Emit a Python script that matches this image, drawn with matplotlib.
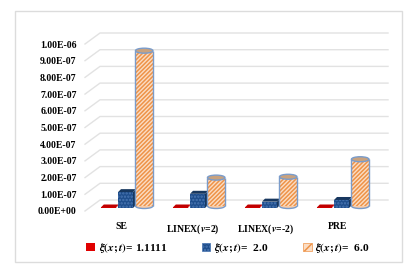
import matplotlib
matplotlib.use("Agg")
import matplotlib.pyplot as plt
from matplotlib.patches import Ellipse, Patch, Rectangle, Polygon

plt.rcParams['font.family'] = ['Liberation Serif', 'DejaVu Serif']
plt.rcParams['font.weight'] = 'bold'
plt.rcParams['mathtext.fontset'] = 'stix'
plt.rcParams['hatch.linewidth'] = 1.1

categories = ["SE", "LINEX($v$=2)", "LINEX($v$=-2)", "PRE"]
series_labels = ["$\\xi(x;t)$= 1.1111", "$\\xi(x;t)$=  2.0", "$\\xi(x;t)$=  6.0"]
xi_1111 = [3e-9, 3e-9, 3e-9, 3e-9]
xi_2 = [0.95e-7, 0.85e-7, 0.38e-7, 0.48e-7]
xi_6 = [9.3e-7, 1.7e-7, 1.75e-7, 2.8e-7]
y_ticks = [0, 1e-7, 2e-7, 3e-7, 4e-7, 5e-7, 6e-7, 7e-7, 8e-7, 9e-7, 1e-6]
y_labels = ["0.00E+00", "1.00E-07", "2.00E-07", "3.00E-07", "4.00E-07", "5.00E-07",
            "6.00E-07", "7.00E-07", "8.00E-07", "9.00E-07", "1.00E-06"]

W, H = 411, 270
fig = plt.figure(figsize=(W/100, H/100), dpi=100)
fig.add_artist(Rectangle((15/W, 1-262/H), 387/W, 251/H, transform=fig.transFigure,
                         fill=False, edgecolor='#DCDCDC', lw=1))

# axes sit on the front plane, the gridlines go on the back wall
ax = fig.add_axes([85/W, 1-211/H, 288/W, 167/H])
ax.set_xlim(-0.5, 3.5)
ax.set_ylim(0, 1e-6)
ax.patch.set_visible(False)
for s in ax.spines.values():
    s.set_visible(False)

px = 1/72.0      # one pixel in x data units
py = 1e-6/167.0  # one pixel in y data units

grid_col = '#E2E2E2'
for v in y_ticks:
    ax.plot([-0.5, -0.5+15*px, 3.5+15*px], [v, v+11*py, v+11*py], color=grid_col, lw=1,
            clip_on=False, zorder=1)

base = 5*py
shift_x = 6*px
step = 17.2*px
w_box = 15*px
w_cyl = 17.5*px
el_h = 5*py

def box(x, val, face, hatch=None, top='#17375F'):
    x = x - 1.5*px
    b = base - 2*py
    d_x, d_y = 3*px, 3*py
    x0, x1 = x-w_box/2, x+w_box/2
    ax.bar(x, val, w_box, bottom=b, color=face, hatch=hatch, edgecolor='#4A76B2',
           lw=0, zorder=3, clip_on=False)
    ax.add_patch(Polygon([(x0, b+val), (x1, b+val), (x1+d_x, b+val+d_y), (x0+d_x, b+val+d_y)],
                         facecolor=top, edgecolor='none', zorder=3, clip_on=False))
    ax.add_patch(Polygon([(x1, b), (x1+d_x, b+d_y), (x1+d_x, b+val+d_y), (x1, b+val)],
                         facecolor=top, edgecolor='none', zorder=3, clip_on=False))

def cylinder(x, val):
    line = '#7A9CCB'
    ax.add_patch(Ellipse((x, base), w_cyl, el_h, facecolor='#F8CBA6', edgecolor=line, lw=1,
                         zorder=4, clip_on=False))
    ax.bar(x, val, w_cyl, bottom=base, color='#FBDDC4', hatch='////////', edgecolor='#EE9348',
           lw=0, zorder=4, clip_on=False)
    ax.vlines([x-w_cyl/2, x+w_cyl/2], base, base+val, color=line, lw=1.0, zorder=5, clip_on=False)
    ax.add_patch(Ellipse((x, base+val), w_cyl, el_h, facecolor='#C9A27E', edgecolor=line, lw=1,
                         zorder=6, clip_on=False))

for i in range(len(categories)):
    cx = i + shift_x
    box(cx-step, xi_1111[i], '#E00000', top='#C00000')
    box(cx, xi_2[i], '#1F4E8C', hatch='.....')
    cylinder(cx+step, xi_6[i])

ax.set_xticks(range(len(categories)), categories)
ax.set_yticks(y_ticks, y_labels)
ax.tick_params(axis='both', length=0, labelsize=7)
ax.tick_params(axis='x', pad=8)
ax.tick_params(axis='y', pad=6)

handles = [Patch(facecolor='#E00000', edgecolor='none'),
           Patch(facecolor='#1F4E8C', edgecolor='#4A76B2', hatch='.....', lw=0.5),
           Patch(facecolor='#FBDDC4', edgecolor='#EE9348', hatch='///', lw=0.5)]
fig.legend(handles, series_labels, loc='center left', bbox_to_anchor=(86/W, 1-248/H), ncol=3,
           frameon=False, fontsize=8.2, handlelength=0.75, handleheight=0.75, handletextpad=0.35,
           columnspacing=3.0, borderpad=0, borderaxespad=0)

fig.savefig("out.png", dpi=100)
